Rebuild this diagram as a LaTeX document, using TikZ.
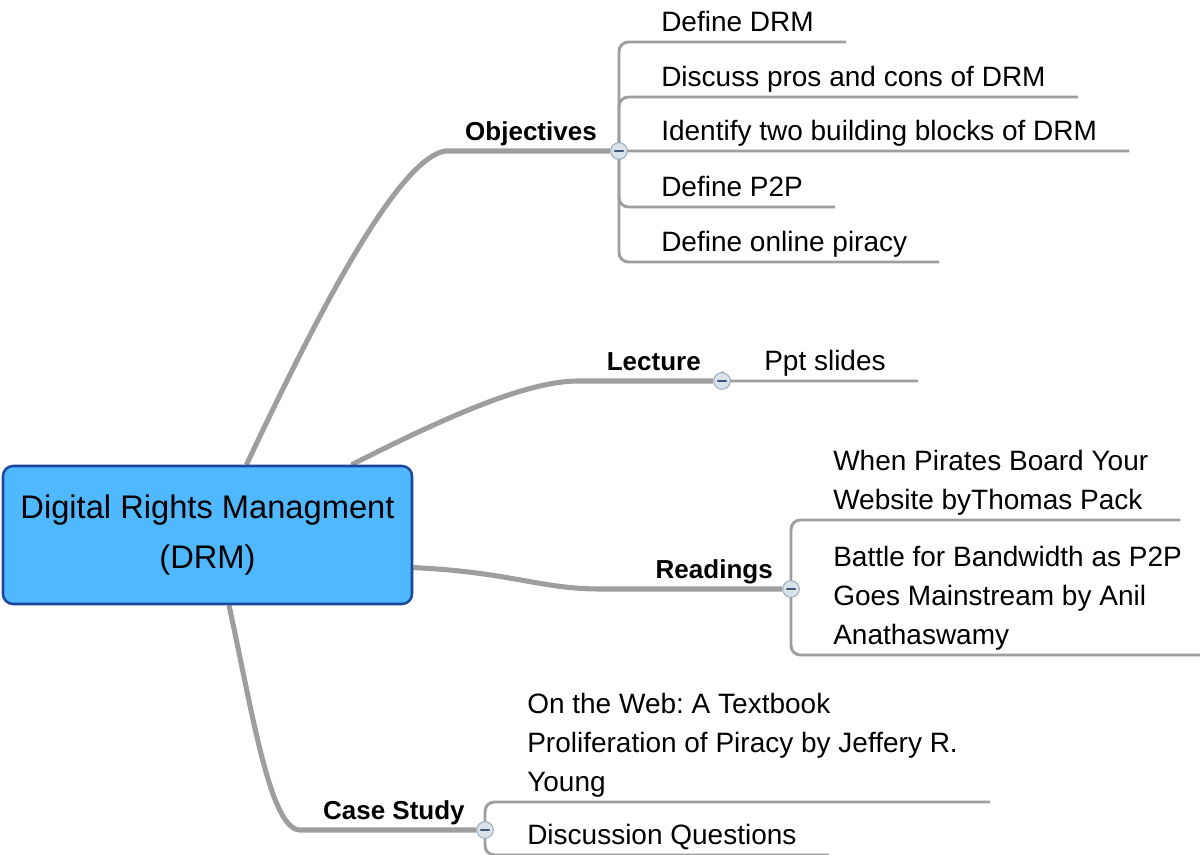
\documentclass[tikz,border=0pt]{standalone}
\usepackage{fontspec}
\setmainfont{Liberation Sans}
\usetikzlibrary{positioning,backgrounds}
\definecolor{rootfill}{RGB}{80,184,255}
\definecolor{rootline}{RGB}{28,72,156}
\definecolor{branchgray}{RGB}{158,158,158}
\definecolor{knobfill}{RGB}{218,226,234}
\definecolor{knobline}{RGB}{150,165,182}
\definecolor{knobminus}{RGB}{60,88,120}
\frenchspacing

\begin{document}
\begin{tikzpicture}[x=0.75pt,y=-0.75pt,line cap=round]
  \tikzstyle{root}=[draw=rootline,fill=rootfill,line width=1.9pt,rounded corners=7.5pt,
                    minimum width=306.75pt,minimum height=103.5pt,align=center,
                    font=\fontsize{24.5}{37.5}\selectfont]
  \tikzstyle{topic}=[anchor=south east,inner sep=0pt,font=\bfseries\fontsize{19.5}{23}\selectfont,
                     execute at end node={\rule[-7.5pt]{0pt}{0pt}}]
  \tikzstyle{leaf}=[anchor=south west,inner xsep=24pt,inner ysep=0pt,align=left,
                    font=\fontsize{21}{29.25}\selectfont,
                    execute at end node={\rule[-7.5pt]{0pt}{0pt}}]
  \tikzstyle{knob}=[circle,draw=knobline,fill=knobfill,line width=0.7pt,minimum size=12.5pt,inner sep=0pt,
                    path picture={\draw[knobminus,line width=1.6pt]
                      (path picture bounding box.center) ++(-3pt,0) -- ++(6pt,0);}]
  \tikzstyle{branch}=[draw=branchgray,line width=3.8pt]
  \tikzstyle{twig}=[draw=branchgray,line width=2.2pt,rounded corners=7pt]

  \useasboundingbox (0,0) rectangle (1200,855);

  \node[root] (drm) at (207.5,535) {Digital Rights Managment\\(DRM)};

  % topics and their knobs
  \node[knob]  (kobj)  at (619,151) {};
  \node[topic] (obj)   at (597,151) {Objectives};
  \node[knob]  (klec)  at (722,381) {};
  \node[topic] (lec)   at (701,381) {Lecture};
  \node[knob]  (kread) at (791,589) {};
  \node[topic] (read)  at (773,589) {Readings};
  \node[knob]  (kcase) at (485,830) {};
  \node[topic] (case)  at (465,830) {Case Study};

  % objectives
  \node[leaf] (odef)    at (629,42)  {Define DRM};
  \node[leaf] (opros)   at (629,97)  {Discuss pros and cons of DRM};
  \node[leaf] (oblocks) at (629,151) {Identify two building blocks of DRM};
  \node[leaf] (op2p)    at (629,207) {Define P2P};
  \node[leaf] (opiracy) at (629,262) {Define online piracy};
  % lecture
  \node[leaf] (lslides) at (732,381) {Ppt slides};
  % readings
  \node[leaf] (rpirates) at (801,520) {When Pirates Board Your\\Website byThomas Pack};
  \node[leaf] (rbattle)  at (801,655) {Battle for Bandwidth as P2P\\Goes Mainstream by Anil\\Anathaswamy};
  % case study
  \node[leaf] (cweb)   at (495,802) {On the Web: A Textbook\\Proliferation of Piracy by Jeffery R.\\Young};
  \node[leaf] (cquest) at (495,855) {Discussion Questions};

  \begin{scope}[on background layer]
    \draw[branch] (drm.61) .. controls (310,330) and (395,160) .. (445,151) -- (kobj);
    \draw[branch] (drm.26) .. controls (440,420) and (525,381) .. (578,381) -- (klec);
    \draw[branch] (drm.-9) .. controls (510,572) and (540,589) .. (600,589) -- (kread);
    \draw[branch] (drm.-73) .. controls (252,710) and (270,830) .. (300,830) -- (kcase);

    \draw[twig] (kobj.center) |- (odef.south east);
    \draw[twig] (kobj.center) |- (opros.south east);
    \draw[twig] (kobj.center) |- (oblocks.south east);
    \draw[twig] (kobj.center) |- (op2p.south east);
    \draw[twig] (kobj.center) |- (opiracy.south east);
    \draw[twig] (klec.center) |- (lslides.south east);
    \draw[twig] (kread.center) |- (rpirates.south east);
    \draw[twig] (kread.center) |- (rbattle.south east);
    \draw[twig] (kcase.center) |- (cweb.south east);
    \draw[twig] (kcase.center) |- (cquest.south east);
  \end{scope}
\end{tikzpicture}
\end{document}
